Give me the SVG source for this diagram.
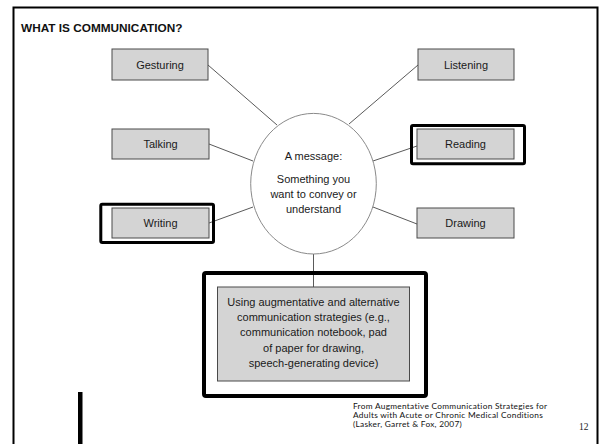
<svg xmlns="http://www.w3.org/2000/svg" width="602" height="444" viewBox="0 0 602 444">
<style>
.box{fill:#d4d4d4;stroke:#4a4a4a;stroke-width:1}
.hl{fill:none;stroke:#000;stroke-linejoin:round}
.lbl{font-family:"Liberation Sans",Arial,sans-serif;font-size:11px;fill:#1a1a1a;text-anchor:middle}
.conn line{stroke:#5a5a5a;stroke-width:1}
.foot{font-family:Lato,"Liberation Sans",sans-serif;font-size:8.3px;letter-spacing:0.28px;fill:#111}
</style>
<rect width="602" height="444" fill="#fff"/>
<g id="frame" fill="none" stroke="#000" stroke-width="2">
<path d="M13.5,444 V7.5 H597.5 V444"/>
</g>
<text x="21" y="32" font-family="'Liberation Sans',Arial,sans-serif" font-size="11.8" font-weight="bold" fill="#111">WHAT IS COMMUNICATION?</text>
<g class="conn" id="connectors">
<line x1="208" y1="65" x2="277" y2="125"/>
<line x1="418" y1="65" x2="349" y2="124"/>
<line x1="209" y1="144" x2="253" y2="161"/>
<line x1="209" y1="223" x2="253" y2="207"/>
<line x1="373" y1="161" x2="417" y2="146"/>
<line x1="373" y1="207" x2="417" y2="224"/>
<line x1="313.5" y1="254" x2="313.5" y2="287"/>
</g>
<g id="message">
<ellipse cx="313.5" cy="183.7" rx="62.8" ry="70.3" fill="#fff" stroke="#8a8a8a" stroke-width="1"/>
<text class="lbl" x="313.5" y="159.5">A message:</text>
<text class="lbl" x="313.5" y="183">Something you</text>
<text class="lbl" x="313.5" y="198">want to convey or</text>
<text class="lbl" x="313.5" y="213">understand</text>
</g>
<g id="gesturing">
<rect class="box" x="112" y="49" width="96" height="31"/>
<text class="lbl" x="160" y="68.5">Gesturing</text>
</g>
<g id="listening">
<rect class="box" x="418" y="49" width="96" height="31"/>
<text class="lbl" x="466" y="68.5">Listening</text>
</g>
<g id="talking">
<rect class="box" x="112" y="129" width="97" height="30"/>
<text class="lbl" x="160.5" y="148">Talking</text>
</g>
<g id="reading">
<rect class="hl" x="411.5" y="125.5" width="113" height="38.3" rx="1.5" stroke-width="3"/>
<rect class="box" x="417" y="129" width="97" height="30"/>
<text class="lbl" x="465.5" y="148">Reading</text>
</g>
<g id="writing">
<rect class="hl" x="100.8" y="204.2" width="112.7" height="38.3" rx="1.5" stroke-width="3"/>
<rect class="box" x="112" y="208" width="97" height="30"/>
<text class="lbl" x="160.5" y="227">Writing</text>
</g>
<g id="drawing">
<rect class="box" x="417" y="208" width="97" height="30"/>
<text class="lbl" x="465.5" y="227">Drawing</text>
</g>
<g id="aac">
<rect class="hl" x="204" y="273" width="222" height="123" rx="2" stroke-width="4"/>
<rect class="box" x="217.5" y="287" width="192" height="94"/>
<text class="lbl" x="313.5" y="306">Using augmentative and alternative</text>
<text class="lbl" x="313.5" y="321">communication strategies (e.g.,</text>
<text class="lbl" x="313.5" y="336">communication notebook, pad</text>
<text class="lbl" x="313.5" y="351.5">of paper for drawing,</text>
<text class="lbl" x="313.5" y="366.5">speech-generating device)</text>
</g>
<rect x="78" y="392" width="4.5" height="52" fill="#000"/>
<g id="footnote">
<text class="foot" x="353" y="408.5">From Augmentative Communication Strategies for</text>
<text class="foot" x="353" y="417.8">Adults with Acute or Chronic Medical Conditions</text>
<text class="foot" x="353" y="427">(Lasker, Garret &amp; Fox, 2007)</text>
</g>
<text x="579" y="430" font-family="'Liberation Serif','Times New Roman',serif" font-size="9.5" fill="#222">12</text>
</svg>
